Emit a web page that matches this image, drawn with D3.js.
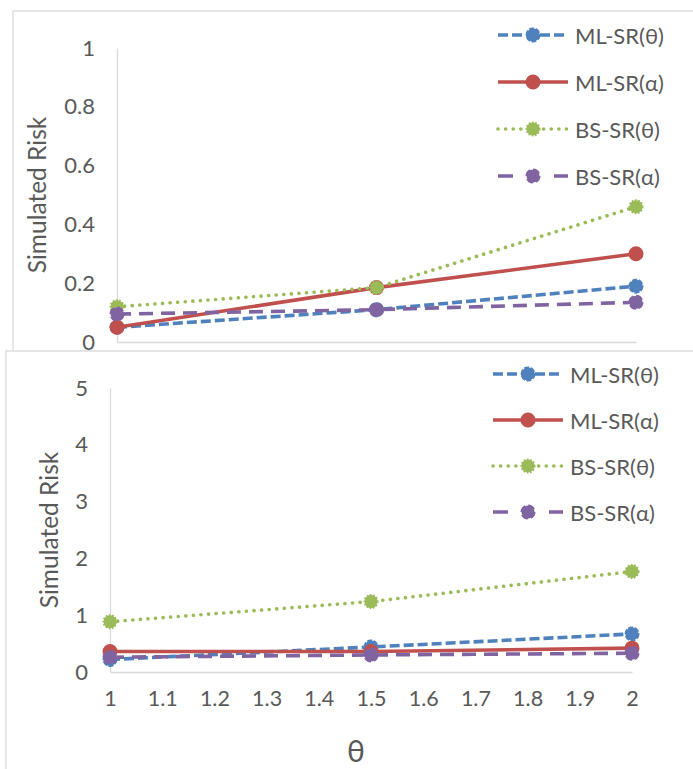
<!DOCTYPE html>
<html>
<head>
<meta charset="utf-8">
<script src="https://cdn.jsdelivr.net/npm/d3@7"></script>
<style>
  html, body { margin: 0; padding: 0; background: #fff; }
  svg { display: block; }
  text { font-family: Lato, "Open Sans", sans-serif; fill: #595959; }
</style>
</head>
<body>
<svg id="chart" width="693" height="769"></svg>
<script>
// Shape parameter values on the x axis
const thetaValues = [1, 1.5, 2];

// Upper panel: simulated risk per estimator
const topMLTheta = [0.05, 0.11, 0.19];
const topMLAlpha = [0.05, 0.185, 0.30];
const topBSTheta = [0.12, 0.185, 0.46];
const topBSAlpha = [0.095, 0.11, 0.135];

// Lower panel: simulated risk per estimator
const bottomMLTheta = [0.22, 0.44, 0.67];
const bottomMLAlpha = [0.36, 0.36, 0.42];
const bottomBSTheta = [0.885, 1.24, 1.77];
const bottomBSAlpha = [0.26, 0.30, 0.33];

// Axis ticks
const topYTicks = [0, 0.2, 0.4, 0.6, 0.8, 1];
const bottomYTicks = [0, 1, 2, 3, 4, 5];
const bottomXTicks = [1, 1.1, 1.2, 1.3, 1.4, 1.5, 1.6, 1.7, 1.8, 1.9, 2];

const seriesNames = ["ML-SR(θ)", "ML-SR(α)", "BS-SR(θ)", "BS-SR(α)"];
const seriesStyles = [
  { color: "#4F81BD", dash: "10,4", cap: "butt", legendDash: "10,4", markerDash: "5,1.5" },
  { color: "#C0504D", dash: null, cap: "butt", legendDash: null, markerDash: null },
  { color: "#9BBB59", dash: "0.1,7.5", cap: "round", legendDash: "0.1,7.5", markerDash: "1.6,1.6" },
  { color: "#8064A2", dash: "14,8", cap: "butt", legendDash: "15,41,14", markerDash: "7,3" }
];

const svg = d3.select("#chart");

function drawPanel(cfg) {
  const g = svg.append("g");
  // chart area frame
  g.append("rect")
    .attr("x", cfg.frame[0]).attr("y", cfg.frame[1])
    .attr("width", cfg.frame[2]).attr("height", cfg.frame[3])
    .attr("fill", "#fff").attr("stroke", "#d9d9d9").attr("stroke-width", 1.3);

  const x = d3.scaleLinear().domain([1, 2]).range(cfg.xRange);
  const y = d3.scaleLinear().domain(cfg.yDomain).range(cfg.yRange);

  // y axis
  const yAxis = g.append("g")
    .attr("transform", `translate(${cfg.xRange[0]},0)`)
    .call(d3.axisLeft(y).tickValues(cfg.yTicks).tickSize(0).tickPadding(22)
      .tickFormat(d3.format("~g")));
  yAxis.select(".domain").attr("stroke", "#d9d9d9").attr("stroke-width", 1.3);
  yAxis.selectAll("text").attr("font-size", 22).style("font-family", "Lato, sans-serif").attr("fill", "#595959");

  // x axis
  const xAxis = g.append("g")
    .attr("transform", `translate(0,${cfg.yRange[0]})`)
    .call(d3.axisBottom(x).tickValues(cfg.xTicks).tickSize(0).tickPadding(19)
      .tickFormat(d3.format("~g")));
  xAxis.select(".domain").attr("stroke", "#d9d9d9").attr("stroke-width", 1.3);
  xAxis.selectAll("text").attr("font-size", 21.5).style("font-family", "Lato, sans-serif").attr("fill", "#595959");

  // y axis title
  g.append("text")
    .attr("transform", `translate(${cfg.yTitle[0]},${cfg.yTitle[1]}) rotate(-90)`)
    .attr("text-anchor", "middle")
    .attr("dominant-baseline", "middle")
    .attr("font-size", 24.5)
    .text("Simulated Risk");

  if (cfg.xTitle) {
    g.append("text")
      .attr("x", cfg.xTitle[0]).attr("y", cfg.xTitle[1])
      .attr("text-anchor", "middle")
      .attr("font-size", 30)
      .text("θ");
  }

  const line = d3.line().x((d, i) => x(thetaValues[i])).y(d => y(d));

  cfg.series.forEach((vals, k) => {
    const st = seriesStyles[k];
    g.append("path")
      .datum(vals)
      .attr("d", line)
      .attr("fill", "none")
      .attr("stroke", st.color)
      .attr("stroke-width", 3.6)
      .attr("stroke-linecap", st.cap)
      .attr("stroke-dasharray", st.dash);
    g.selectAll(null)
      .data(vals)
      .join("circle")
      .attr("cx", (d, i) => x(thetaValues[i]))
      .attr("cy", d => y(d))
      .attr("r", 6.5)
      .attr("fill", st.color)
      .attr("stroke", st.color)
      .attr("stroke-width", 2)
      .attr("stroke-dasharray", st.markerDash);
  });

  // legend
  const lg = g.append("g");
  seriesNames.forEach((name, k) => {
    const st = seriesStyles[k];
    const ly = cfg.legend.y0 + k * cfg.legend.step;
    lg.append("line")
      .attr("x1", cfg.legend.x0).attr("x2", cfg.legend.x0 + 70)
      .attr("y1", ly).attr("y2", ly)
      .attr("stroke", st.color).attr("stroke-width", 3.6)
      .attr("stroke-linecap", st.cap)
      .attr("stroke-dasharray", st.legendDash);
    lg.append("circle")
      .attr("cx", cfg.legend.x0 + 35).attr("cy", ly).attr("r", 6.5)
      .attr("fill", st.color)
      .attr("stroke", st.color)
      .attr("stroke-width", 2)
      .attr("stroke-dasharray", st.markerDash);
    lg.append("text")
      .attr("x", cfg.legend.x0 + 77).attr("y", ly)
      .attr("dominant-baseline", "central")
      .attr("font-size", 22)
      .text(name);
  });
}

drawPanel({
  frame: [13, 11, 700, 400],
  xRange: [117, 636],
  yRange: [342, 48],
  yDomain: [0, 1],
  yTicks: topYTicks,
  xTicks: [],
  yTitle: [40, 195],
  xTitle: null,
  series: [topMLTheta, topMLAlpha, topBSTheta, topBSAlpha],
  legend: { x0: 498, y0: 35, step: 47 }
});

drawPanel({
  frame: [6, 351, 700, 430],
  xRange: [110, 632],
  yRange: [672, 388],
  yDomain: [0, 5],
  yTicks: bottomYTicks,
  xTicks: bottomXTicks,
  yTitle: [52, 530],
  xTitle: [356, 762],
  series: [bottomMLTheta, bottomMLAlpha, bottomBSTheta, bottomBSAlpha],
  legend: { x0: 493, y0: 374, step: 46 }
});
</script>
</body>
</html>
